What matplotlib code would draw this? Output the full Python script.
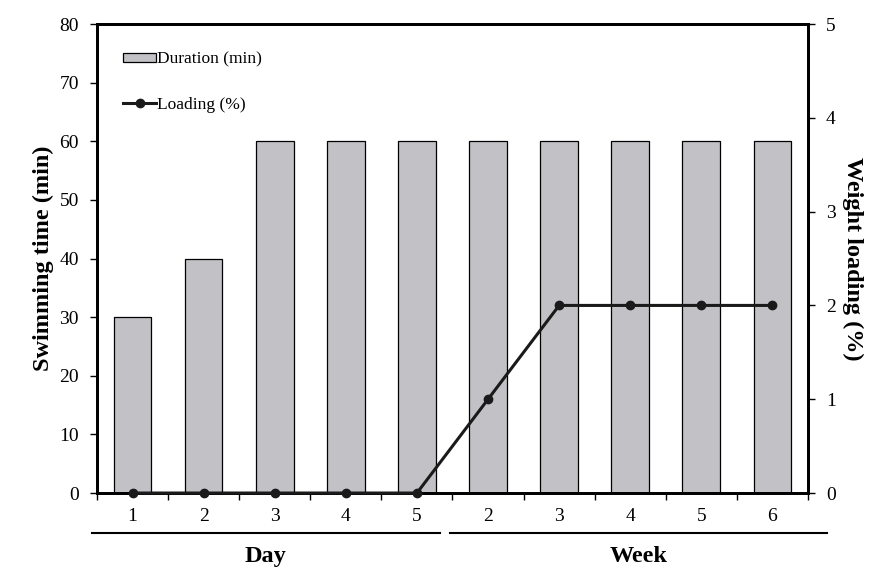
import matplotlib
matplotlib.use("Agg")
import matplotlib.pyplot as plt
from matplotlib.lines import Line2D
from matplotlib.patches import Patch
import numpy as np

categories = ["1", "2", "3", "4", "5", "2", "3", "4", "5", "6"]
groups = ["Day", "Week"]
group_sizes = [5, 5]
duration = [30, 40, 60, 60, 60, 60, 60, 60, 60, 60]
loading = [0, 0, 0, 0, 0, 1, 2, 2, 2, 2]

plt.rcParams['font.family'] = ['Liberation Serif', 'DejaVu Serif']

fig = plt.figure(figsize=(8.7, 5.68), dpi=100)
ax = fig.add_axes([0.1115, 0.132, 0.8172, 0.8257])
x = np.arange(len(categories))
ax.bar(x, duration, width=0.53, color='#c2c2c6', edgecolor='black', linewidth=0.9, zorder=2)
ax.set_xlim(-0.5, len(categories) - 0.5)
ax.set_ylim(0, 80)
ax.set_yticks(np.arange(0, 81, 10))
ax.set_xticks(x)
ax.set_xticklabels(categories)
ax.tick_params(axis='x', length=0, pad=11, labelsize=14)
ax.set_xticks(np.arange(-0.5, len(categories), 1), minor=True)
ax.tick_params(axis='x', which='minor', length=5, width=1, direction='out')
ax.tick_params(axis='y', length=5, width=1, direction='out', labelsize=14, pad=8)
for s in ax.spines.values():
    s.set_linewidth(2)
ax.set_ylabel('Swimming time (min)', fontsize=17.5, fontweight='bold', labelpad=4)

ax2 = ax.twinx()
ax2.plot(x, loading, color='#1a1a1a', linewidth=2.2, marker='o', markersize=6, zorder=5, clip_on=False)
ax2.set_ylim(0, 5)
ax2.set_yticks(np.arange(0, 6, 1))
ax2.tick_params(axis='y', length=5, width=1, direction='out', labelsize=14, pad=8)
for s in ax2.spines.values():
    s.set_linewidth(2)
ax2.set_ylabel('Weight loading (%)', fontsize=17.5, fontweight='bold', rotation=270, labelpad=20)

# group lines and labels
trans = ax.get_xaxis_transform()
start = 0
for g, n in zip(groups, group_sizes):
    x0 = start - 0.57 if start == 0 else start - 0.54
    x1 = start + n - 1 + (0.32 if start == 0 else 0.77)
    ax.add_line(Line2D([x0, x1], [-0.085, -0.085], transform=trans, color='black',
                       linewidth=1.5, clip_on=False))
    ax.text((x0 + x1) / 2, -0.135, g, transform=trans, ha='center', va='center',
            fontsize=17.5, fontweight='bold')
    start += n

handles = [Patch(facecolor='#c2c2c6', edgecolor='black', linewidth=0.9),
           Line2D([], [], color='#1a1a1a', linewidth=2.2, marker='o', markersize=6)]
leg = ax.legend(handles, ['Duration (min)', 'Loading (%)'], loc='upper left',
                bbox_to_anchor=(0.014, 0.975), frameon=False, fontsize=12.5,
                handlelength=1.95, handleheight=0.45, handletextpad=0.05, labelspacing=1.7)

fig.savefig('out.png', dpi=100)
